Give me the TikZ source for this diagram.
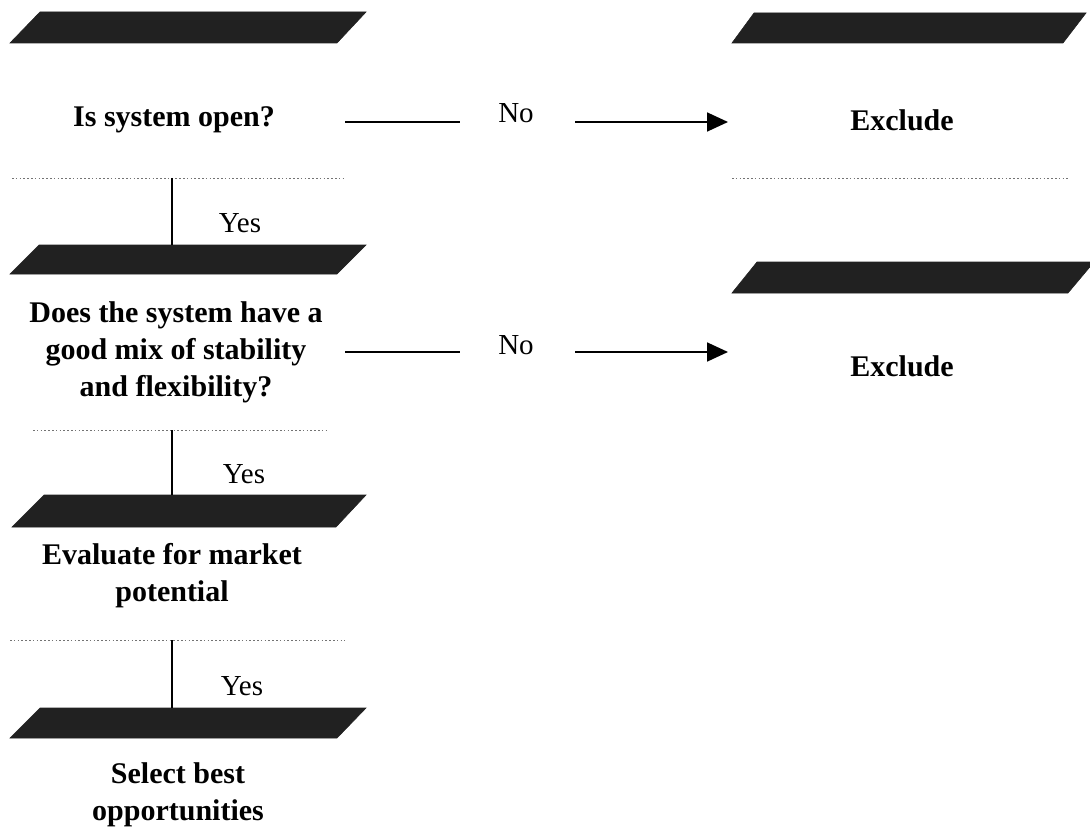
\documentclass[tikz,border=0pt]{standalone}
\usepackage{fontspec}
\setmainfont{Liberation Serif}
\usetikzlibrary{arrows.meta}

\tikzset{
  bar/.style={fill=black!87, draw=black!87, line width=0.6pt},
  boxtext/.style={font=\fontsize{30}{37}\selectfont\bfseries, align=center, inner sep=0pt},
  answer/.style={font=\fontsize{29}{35}\selectfont, inner sep=0pt, anchor=base},
  baseline rule/.style={draw=black!55, line width=0.9pt, dash pattern=on 1.6pt off 2.2pt},
  link/.style={draw=black, line width=1.8pt},
  noarrow/.style={link, -{Triangle[length=21pt,width=19pt]}}
}

\begin{document}
\begin{tikzpicture}[x=1pt, y=-1pt]
\useasboundingbox (0,0) rectangle (1090,832);

% slanted top faces of the boxes
\fill[bar] (10,43) -- (337,43) -- (366,12) -- (40,12) -- cycle;
\fill[bar] (10,274) -- (337,274) -- (366,245) -- (39,245) -- cycle;
\fill[bar] (12,527) -- (336,527) -- (366,495) -- (44,495) -- cycle;
\fill[bar] (10,738) -- (337,738) -- (366,708) -- (40,708) -- cycle;
\fill[bar] (732,43) -- (1063,43) -- (1086,13) -- (754,13) -- cycle;
\fill[bar] (732,293) -- (1068,293) -- (1094,262) -- (757,262) -- cycle;

% box texts
\node[boxtext] (q1) at (174,120) {Is system open?};
\node[boxtext] (q2) at (176,352) {Does the system have a\\good mix of stability\\and flexibility?};
\node[boxtext] (q3) at (172,576) {Evaluate for market\\potential};
\node[boxtext] (q4) at (178,795) {Select best\\opportunities};
\node[boxtext] (ex1) at (902,120) {Exclude};
\node[boxtext] (ex2) at (902,366) {Exclude};

% faint lower edges of the boxes
\draw[baseline rule] (12,178) -- (345,178);
\draw[baseline rule] (33,430) -- (328,430);
\draw[baseline rule] (10,640) -- (345,640);
\draw[baseline rule] (732,178) -- (1068,178);

% connector end points
\coordinate (q1b) at (172,178);
\coordinate (q2t) at (172,245);
\coordinate (q2b) at (172,430);
\coordinate (q3t) at (172,495);
\coordinate (q3b) at (172,640);
\coordinate (q4t) at (172,708);

\coordinate (r1a) at (345,122);
\coordinate (r1b) at (460,122);
\coordinate (r1c) at (575,122);
\coordinate (ex1w) at (728,122);
\coordinate (r2a) at (345,352);
\coordinate (r2b) at (460,352);
\coordinate (r2c) at (575,352);
\coordinate (ex2w) at (728,352);

% "yes" connectors
\draw[link] (q1b) -- (q2t);
\draw[link] (q2b) -- (q3t);
\draw[link] (q3b) -- (q4t);
\node[answer] (y1) at (240,232) {Yes};
\node[answer] (y2) at (244,483) {Yes};
\node[answer] (y3) at (242,695) {Yes};

% "no" connectors
\draw[link] (r1a) -- (r1b);
\node[answer] (n1) at (516,123) {No};
\draw[noarrow] (r1c) -- (ex1w);
\draw[link] (r2a) -- (r2b);
\node[answer] (n2) at (516,354) {No};
\draw[noarrow] (r2c) -- (ex2w);
\end{tikzpicture}
\end{document}
